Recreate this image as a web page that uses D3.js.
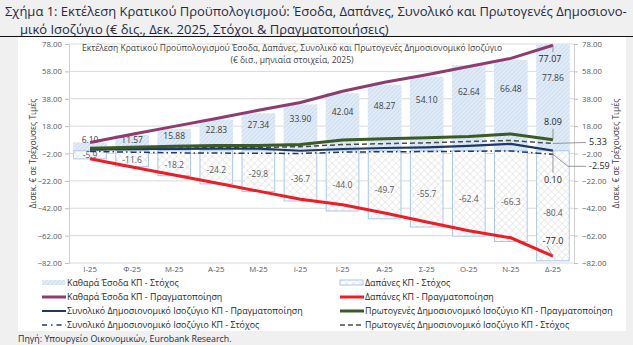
<!DOCTYPE html>
<html><head><meta charset="utf-8">
<script src="https://cdn.jsdelivr.net/npm/d3@7"></script>
<style>
html,body{margin:0;padding:0;background:#f0f0f0;}
svg{display:block;font-family:"Open Sans",sans-serif;}
</style></head>
<body>
<svg id="c" width="633" height="345"></svg>
<script>
// ---- data ----
const months = ["Ι-25","Φ-25","Μ-25","Α-25","Μ-25","Ι-25","Ι-25","Α-25","Σ-25","Ο-25","Ν-25","Δ-25"];
const revenueTarget = [6.10, 11.57, 15.88, 22.83, 27.34, 33.90, 42.04, 48.27, 54.10, 62.64, 66.48, 77.86];
const expenseTarget = [-5.9, -11.6, -18.2, -24.2, -29.8, -36.7, -44.0, -49.7, -55.7, -62.4, -66.3, -80.4];
const revenueActual = [6.10, 12.0, 17.8, 23.5, 29.6, 35.3, 43.5, 50.0, 55.5, 61.5, 67.5, 77.07];
const expenseActual = [-5.9, -11.8, -17.7, -23.6, -29.5, -35.4, -39.5, -45.4, -52.0, -58.5, -63.6, -77.0];
const overallActual = [0.8, 1.2, 1.4, 1.5, 1.6, 0.0, 1.3, 2.0, 2.5, 3.5, 5.0, 0.10];
const primaryActual = [1.8, 2.6, 3.3, 3.8, 3.8, 4.5, 7.8, 8.8, 9.5, 10.5, 12.3, 8.09];
const overallTarget = [-0.5, -1.0, -1.5, -1.7, -1.8, -2.0, -1.0, -0.7, -0.6, -0.3, -0.2, -2.59];
const primaryTarget = [1.5, 1.8, 2.0, 2.2, 2.4, 3.0, 4.5, 5.2, 5.8, 6.8, 7.5, 5.33];
const yTicks = [78, 58, 38, 18, -2, -22, -42, -62, -82];
const legendLabels = [
  "Καθαρά Έσοδα ΚΠ - Στόχος", "Δαπάνες ΚΠ - Στόχος",
  "Καθαρά Έσοδα ΚΠ - Πραγματοποίηση", "Δαπάνες ΚΠ - Πραγματοποίηση",
  "Συνολικό Δημοσιονομικό Ισοζύγιο ΚΠ - Πραγματοποίηση", "Πρωτογενές Δημοσιονομικό Ισοζύγιο ΚΠ - Πραγματοποίηση",
  "Συνολικό Δημοσιονομικό Ισοζύγιο ΚΠ - Στόχος", "Πρωτογενές Δημοσιονομικό Ισοζύγιο ΚΠ - Στόχος"
];

const svg = d3.select("#c");
const defs = svg.append("defs");
const pr = defs.append("pattern").attr("id","revHatch").attr("patternUnits","userSpaceOnUse")
  .attr("width",3).attr("height",3).attr("patternTransform","rotate(45)");
pr.append("rect").attr("width",3).attr("height",3).attr("fill","#e2ecf7");
pr.append("line").attr("x1",0).attr("y1",0).attr("x2",0).attr("y2",3).attr("stroke","#b8d0ec").attr("stroke-width",1.1);
const pe = defs.append("pattern").attr("id","expHatch").attr("patternUnits","userSpaceOnUse")
  .attr("width",5).attr("height",5).attr("patternTransform","rotate(45)");
pe.append("rect").attr("width",5).attr("height",5).attr("fill","#ffffff");
pe.append("line").attr("x1",0).attr("y1",0).attr("x2",0).attr("y2",5).attr("stroke","#d2d2d2").attr("stroke-width",0.8);
pe.append("line").attr("x1",0).attr("y1",0).attr("x2",5).attr("y2",0).attr("stroke","#d2d2d2").attr("stroke-width",0.8);

function fit(sel, width){
  const w = sel.node().getComputedTextLength();
  const fs = parseFloat(sel.attr("font-size"));
  sel.attr("font-size", fs*width/w);
  return fs*width/w;
}

// title
svg.append("line").attr("x1",0).attr("x2",633).attr("y1",36.5).attr("y2",36.5).attr("stroke","#111").attr("stroke-width",1);
svg.append("rect").attr("x",18).attr("y",37).attr("width",608).attr("height",294).attr("fill","#fff");
const tcol = "#1f2a44";
const t1 = svg.append("text").attr("x",5).attr("y",15.5).attr("font-size",13).attr("fill",tcol)
  .text("Σχήμα 1: Εκτέλεση Κρατικού Προϋπολογισμού: Έσοδα, Δαπάνες, Συνολικό και Πρωτογενές Δημοσιονο-");
const tfs = fit(t1, 622);
svg.append("text").attr("x",20).attr("y",33.5).attr("font-size",tfs).attr("fill",tcol)
  .text("μικό Ισοζύγιο (€ δις., Δεκ. 2025, Στόχοι & Πραγματοποιήσεις)");

// scales
const L = 69, R = 574;
const x = d3.scaleBand().domain(d3.range(months.length)).range([L, R]).paddingInner(0.2).paddingOuter(0.1);
const y = d3.scaleLinear().domain([-82, 78]).range([263, 44]);
const cx = i => x(i) + x.bandwidth()/2;

// gridlines
svg.append("g").selectAll("line").data(yTicks).join("line")
  .attr("x1",L).attr("x2",R).attr("y1",d=>y(d)).attr("y2",d=>y(d))
  .attr("stroke","#d9d9d9").attr("stroke-width",1);

// axes
const fmt = d3.format(".2f");
const axL = svg.append("g").attr("transform",`translate(${L},0)`)
  .call(d3.axisLeft(y).tickValues(yTicks).tickFormat(fmt).tickSize(4).tickPadding(3));
const axR = svg.append("g").attr("transform",`translate(${R},0)`)
  .call(d3.axisRight(y).tickValues(yTicks).tickFormat(fmt).tickSize(4).tickPadding(4));
[axL, axR].forEach(a => {
  a.select(".domain").attr("stroke","#d0d0d0");
  a.selectAll(".tick line").attr("stroke","#bfbfbf");
  a.selectAll("text").attr("font-size",7.8).attr("fill","#595959").attr("font-family","'Open Sans',sans-serif");
});
const axB = svg.append("g").attr("transform",`translate(0,${y(-82)})`)
  .call(d3.axisBottom(x).tickFormat(i => months[i]).tickSize(0).tickPadding(3));
axB.select(".domain").remove();
axB.selectAll("text").attr("font-size",7.8).attr("fill","#595959").attr("font-family","'Open Sans',sans-serif");

// axis titles
svg.append("text").attr("transform",`translate(36,${y(-2)}) rotate(-90)`).attr("text-anchor","middle")
  .attr("font-size",8.5).attr("fill","#404040").text("Δισεκ. € σε Τρέχουσες Τιμές");
svg.append("text").attr("transform",`translate(619,${y(-2)}) rotate(-90)`).attr("text-anchor","middle")
  .attr("font-size",8.5).attr("fill","#404040").text("Δισεκ. € σε Τρέχουσες Τιμές");

// inner title
svg.append("text").attr("x",292).attr("y",51).attr("text-anchor","middle").attr("font-size",8.5).attr("fill","#404040")
  .text("Εκτέλεση Κρατικού Προϋπολογισμού Έσοδα, Δαπάνες, Συνολικό και Πρωτογενές Δημοσιονομικό Ισοζύγιο");
svg.append("text").attr("x",292).attr("y",63).attr("text-anchor","middle").attr("font-size",8.5).attr("fill","#404040")
  .text("(€ δισ., μηνιαία στοιχεία, 2025)");

// bars
svg.append("g").selectAll("rect").data(revenueTarget).join("rect")
  .attr("x",(d,i)=>x(i)).attr("width",x.bandwidth())
  .attr("y",d=>y(d)).attr("height",d=>y(0)-y(d)).attr("fill","url(#revHatch)");
svg.append("g").selectAll("rect").data(expenseTarget).join("rect")
  .attr("x",(d,i)=>x(i)+0.5).attr("width",x.bandwidth()-1)
  .attr("y",y(0)).attr("height",d=>y(d)-y(0)).attr("fill","url(#expHatch)")
  .attr("stroke","#a9c8ea").attr("stroke-width",1);

// bar labels
svg.append("g").selectAll("text").data(revenueTarget).join("text")
  .attr("x",(d,i)=>cx(i)).attr("y",d=>y(Math.max(d*0.68, 7.5))+3)
  .attr("text-anchor","middle").attr("font-size",8.5).attr("fill","#404040").text(d=>d.toFixed(2));
svg.append("g").selectAll("text").data(expenseTarget).join("text")
  .attr("x",(d,i)=>cx(i)).attr("y",d=>y(d*0.57)+3)
  .attr("text-anchor","middle").attr("font-size",8.5).attr("fill","#595959").text(d=>d.toFixed(1));

// lines
const line = d3.line().x((d,i)=>cx(i)).y(d=>y(d));
const series = [
  {data: overallTarget, color:"#1f3864", w:1.5, dash:"6,3,1.5,3"},
  {data: primaryTarget, color:"#474f42", w:1.5, dash:"5,3"},
  {data: overallActual, color:"#1f3864", w:2.2},
  {data: primaryActual, color:"#3b5a25", w:3},
  {data: expenseActual, color:"#ee1c25", w:3},
  {data: revenueActual, color:"#8e3b6f", w:3}
];
series.forEach(s => {
  svg.append("path").attr("d", line(s.data)).attr("fill","none")
    .attr("stroke",s.color).attr("stroke-width",s.w).attr("stroke-dasharray",s.dash||null);
});

// end labels with leader lines
const last = months.length - 1, ex = cx(last);
const lead = "#7f7f7f";
function leader(pts){ svg.append("path").attr("d", d3.line()(pts)).attr("fill","none").attr("stroke",lead).attr("stroke-width",0.8); }
function lab(xx,yy,t,anchor){ svg.append("text").attr("x",xx).attr("y",yy).attr("text-anchor",anchor||"middle")
  .attr("font-size",9).attr("fill","#262626").text(t); }
leader([[ex, y(revenueActual[last])],[ex, y(revenueActual[last])+7]]);
lab(ex-3, y(revenueActual[last])+17, revenueActual[last].toFixed(2));
leader([[ex, y(primaryActual[last])],[ex, y(primaryActual[last])-11]]);
lab(ex, y(primaryActual[last])-15, primaryActual[last].toFixed(2));
leader([[ex, y(overallActual[last])],[ex, y(overallActual[last])+22]]);
lab(ex, y(overallActual[last])+32, overallActual[last].toFixed(2));
leader([[ex, y(expenseActual[last])],[ex-6, y(expenseActual[last])-10]]);
lab(ex, y(expenseActual[last])-12, expenseActual[last].toFixed(1));
leader([[ex, y(primaryTarget[last])],[R+12, y(primaryTarget[last])-1]]);
lab(R+15, y(primaryTarget[last])+2, primaryTarget[last].toFixed(2), "start");
leader([[ex, y(overallTarget[last])],[ex+15, y(overallTarget[last])+12],[R+12, y(overallTarget[last])+12]]);
lab(R+15, y(overallTarget[last])+15, overallTarget[last].toFixed(2), "start");

// legend
const leg = svg.append("g").attr("font-size",9).attr("fill","#262626");
const colX = [42, 340], rowY = [286, 300, 314, 328];
const sw = [
  {type:"rect", fill:"url(#revHatch)"}, {type:"rect", fill:"url(#expHatch)", stroke:"#a9c8ea"},
  {type:"line", color:"#8e3b6f", w:3}, {type:"line", color:"#ee1c25", w:3},
  {type:"line", color:"#1f3864", w:2}, {type:"line", color:"#3b5a25", w:3},
  {type:"line", color:"#1f3864", w:1.5, dash:"5,4,1.5,4"}, {type:"line", color:"#474f42", w:1.5, dash:"5,3"}
];
let legTexts = [];
legendLabels.forEach((t,i) => {
  const gx = colX[i%2], gy = rowY[Math.floor(i/2)];
  const s = sw[i];
  if (s.type === "rect") {
    leg.append("rect").attr("x",gx).attr("y",gy-6).attr("width",23).attr("height",5)
      .attr("fill",s.fill).attr("stroke",s.stroke||null).attr("stroke-width",1);
  } else {
    leg.append("line").attr("x1",gx).attr("x2",gx+24).attr("y1",gy-3).attr("y2",gy-3)
      .attr("stroke",s.color).attr("stroke-width",s.w).attr("stroke-dasharray",s.dash||null);
  }
  legTexts.push(leg.append("text").attr("x",gx+25).attr("y",gy).attr("font-size",9).text(t));
});
const lfs = fit(legTexts[5], 248);
legTexts.forEach(t => t.attr("font-size", lfs));

svg.append("text").attr("x",18).attr("y",342).attr("font-size",lfs).attr("fill","#1f2a44")
  .text("Πηγή: Υπουργείο Οικονομικών, Eurobank Research.");
</script>
</body></html>
